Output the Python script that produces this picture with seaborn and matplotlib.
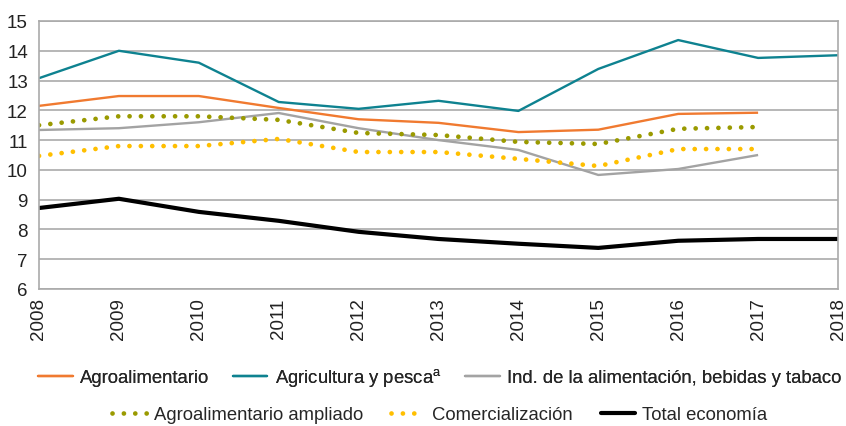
import matplotlib
matplotlib.use("Agg")
import matplotlib.pyplot as plt
import seaborn as sns
import pandas as pd
from matplotlib.lines import Line2D

years = list(range(2008, 2019))
agroalimentario = [12.15, 12.48, 12.48, 12.08, 11.70, 11.58, 11.27, 11.35, 11.88, 11.92, None]
agricultura = [13.08, 14.00, 13.60, 12.28, 12.05, 12.32, 11.98, 13.39, 14.36, 13.76, 13.85]
industria = [11.34, 11.40, 11.60, 11.91, 11.40, 11.00, 10.67, 9.83, 10.03, 10.50, None]
ampliado = [11.50, 11.80, 11.80, 11.68, 11.24, 11.17, 10.94, 10.87, 11.38, 11.44, None]
comercializacion = [10.47, 10.80, 10.80, 11.04, 10.60, 10.60, 10.37, 10.13, 10.70, 10.70, None]
total = [8.72, 9.03, 8.59, 8.29, 7.92, 7.68, 7.52, 7.38, 7.62, 7.68, 7.68]

names = ["Agroalimentario", "Agricultura y pesca$^{\\mathrm{a}}$",
         "Ind. de la alimentación, bebidas y tabaco",
         "Agroalimentario ampliado", "Comercialización", "Total economía"]
series = [agroalimentario, agricultura, industria, ampliado, comercializacion, total]
colors = ["#F07A30", "#0E8290", "#A3A3A3", "#9A9A00", "#FFBF00", "#000000"]
dotted = (0, (0.01, 2.4))
styles = ["-", "-", "-", dotted, dotted, "-"]
widths = [1.7, 1.7, 1.7, 3.4, 3.4, 3.0]

sns.set_theme(style="white")
plt.rcParams['font.family'] = ['Liberation Sans', 'DejaVu Sans']
plt.rcParams['mathtext.fontset'] = 'custom'
plt.rcParams['mathtext.rm'] = 'Liberation Sans'

fig = plt.figure(figsize=(8.46, 4.27), dpi=100)
ax = fig.add_axes([39/846, 1 - 290/427, (838-39)/846, (290-22)/427])

for name, vals, c, ls, lw in zip(names, series, colors, styles, widths):
    df = pd.DataFrame({"year": years, "value": vals}).dropna()
    sns.lineplot(data=df, x="year", y="value", ax=ax, color=c, linewidth=lw,
                 linestyle=ls, dash_capstyle="round", solid_capstyle="butt",
                 legend=False)

ax.set_xlim(2008, 2018)
ax.set_ylim(6, 15)
ax.set_xticks(years)
ax.set_xticklabels([str(y) for y in years], rotation=90, fontsize=13.5, color="#222222")
ax.set_yticks(range(6, 16))
ax.set_yticklabels([str(v) for v in range(6, 16)], fontsize=13.5, color="#222222")
ax.set_xlabel("")
ax.set_ylabel("")
ax.grid(axis="y", color="#AAAAAA", linewidth=1.2)
for s in ax.spines.values():
    s.set_color("#AAAAAA")
    s.set_linewidth(1.2)
ax.tick_params(axis="x", length=0, pad=6)
ax.tick_params(axis="y", length=0, pad=8)

def handle(i):
    return Line2D([0], [0], color=colors[i], linestyle=styles[i],
                  linewidth=widths[i], dash_capstyle="round")

leg1 = fig.legend([handle(i) for i in range(3)], names[:3], loc="center",
                  bbox_to_anchor=(0.52, 1 - 378/427), ncol=3, frameon=False,
                  fontsize=13.3, handlelength=1.85, handletextpad=0.4, columnspacing=1.3)
fig.add_artist(leg1)
leg2 = fig.legend([handle(i) for i in range(3, 6)], names[3:], loc="center",
                  bbox_to_anchor=(0.52, 1 - 416/427), ncol=3, frameon=False,
                  fontsize=13.3, handlelength=1.85, handletextpad=0.4, columnspacing=1.5)

fig.savefig("out.png", dpi=100)
